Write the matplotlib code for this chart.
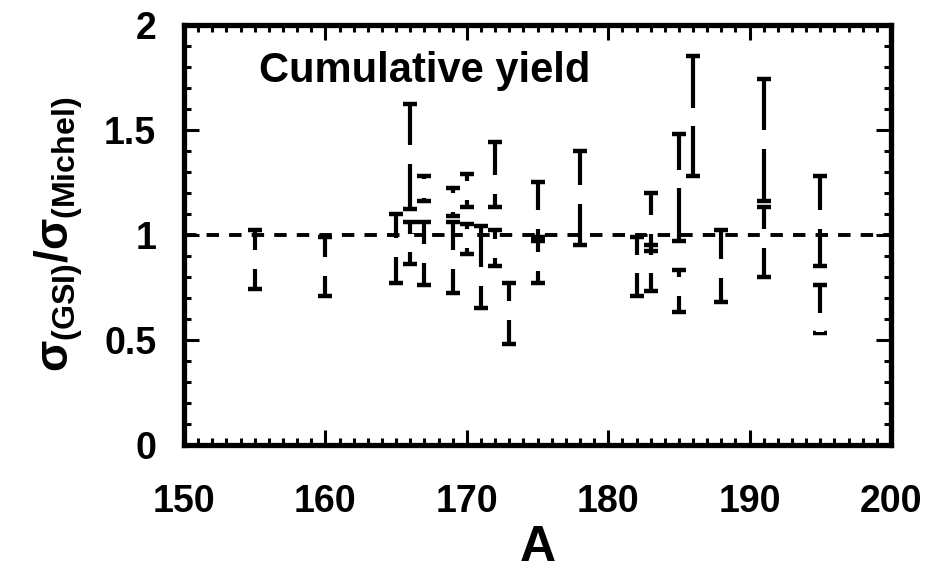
import matplotlib
matplotlib.use("Agg")
import matplotlib.pyplot as plt
from matplotlib.ticker import MultipleLocator

plt.rcParams['font.family'] = ['Liberation Sans', 'DejaVu Sans']
plt.rcParams['font.weight'] = 'bold'
plt.rcParams['mathtext.fontset'] = 'custom'
plt.rcParams['mathtext.rm'] = 'Liberation Sans:bold'
plt.rcParams['mathtext.it'] = 'Liberation Sans:bold'
plt.rcParams['mathtext.bf'] = 'Liberation Sans:bold'

# mass number, ratio sigma(GSI)/sigma(Michel), lower / upper errors
A = [155, 160, 165, 166, 166, 167, 167, 169, 169, 170, 170, 171, 172, 172,
     173, 175, 175, 178, 182, 183, 183, 185, 185, 186, 188, 191, 191, 195, 195]
ratio = [0.88, 0.85, 0.94, 1.38, 0.96, 1.22, 0.91, 0.88, 1.155, 1.21, 0.98, 0.80, 1.24, 0.935,
         0.64, 1.07, 0.87, 1.19, 0.86, 1.05, 0.86, 1.265, 0.755, 1.56, 0.84, 1.455, 0.98, 1.07, 0.58]
err_lo = [0.14, 0.14, 0.17, 0.26, 0.10, 0.06, 0.15, 0.16, 0.065, 0.08, 0.07, 0.15, 0.11, 0.085,
          0.16, 0.08, 0.10, 0.24, 0.15, 0.13, 0.13, 0.295, 0.125, 0.28, 0.16, 0.295, 0.18, 0.22, 0.05]
err_hi = [0.14, 0.14, 0.16, 0.24, 0.10, 0.06, 0.15, 0.18, 0.065, 0.08, 0.07, 0.24, 0.20, 0.085,
          0.13, 0.18, 0.10, 0.21, 0.13, 0.15, 0.09, 0.215, 0.075, 0.29, 0.18, 0.285, 0.15, 0.21, 0.18]

fig = plt.figure(figsize=(9.34, 5.73), dpi=100)
ax = fig.add_axes([0.197, 0.224, 0.757, 0.733])

ax.axhline(1.0, color='black', lw=2.8, ls=(0, (3.2, 2.6)), zorder=1)
ax.errorbar(A, ratio, yerr=[err_lo, err_hi], fmt='none', ecolor='black',
            elinewidth=3, capsize=5, capthick=3.2, zorder=2)
# open gap in the middle of each bar (lost marker in the original scan)
gap = 0.045
ax.vlines(A, [r - gap for r in ratio], [r + gap for r in ratio],
          colors='white', lw=6, zorder=3)

ax.text(155.3, 1.78, 'Cumulative yield', fontsize=30, fontweight='bold', va='center')

ax.set_xlim(150, 200)
ax.set_ylim(0, 2)
ax.xaxis.set_major_locator(MultipleLocator(10))
ax.xaxis.set_minor_locator(MultipleLocator(1))
ax.yaxis.set_minor_locator(MultipleLocator(0.1))
ax.set_yticks([0, 0.5, 1, 1.5, 2])
ax.set_yticklabels(['0', '0.5', '1', '1.5', '2'])

ax.tick_params(which='both', direction='in', top=True, right=True, width=2.2)
ax.tick_params(which='major', length=11)
ax.tick_params(which='minor', length=5)
ax.tick_params(axis='x', which='major', pad=28, labelsize=27)
ax.tick_params(axis='y', which='major', pad=20, labelsize=27)
for s in ax.spines.values():
    s.set_linewidth(3.8)

ax.set_xlabel('A', fontsize=36, fontweight='bold', labelpad=4)
ax.set_ylabel(r'$\sigma_{(\mathrm{GSI})}/\sigma_{(\mathrm{Michel})}$', fontsize=33, labelpad=14)

fig.savefig('out.png', dpi=100)
